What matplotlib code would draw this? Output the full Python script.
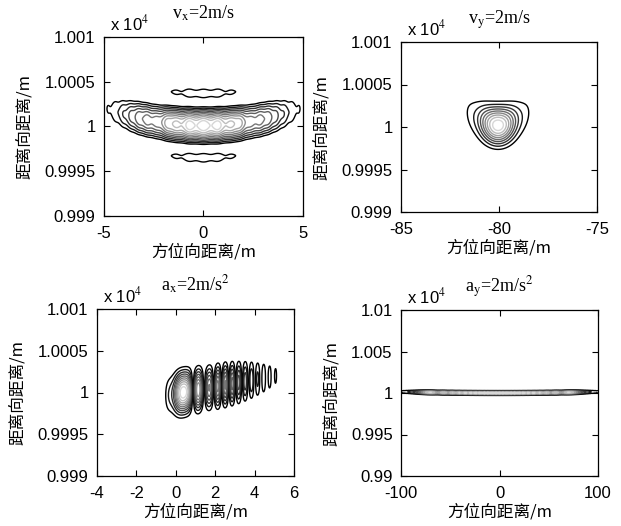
import numpy as np
import matplotlib
matplotlib.use("Agg")
import matplotlib.pyplot as plt
from matplotlib.colors import LinearSegmentedColormap

plt.rcParams['font.family'] = ['Liberation Sans', 'Noto Sans CJK SC', 'DejaVu Sans']
plt.rcParams['mathtext.fontset'] = 'stix'

# ---------------- data / parameters ----------------
titles = [r'v$_{\mathrm{x}}$=2m/s', r'v$_{\mathrm{y}}$=2m/s',
          r'a$_{\mathrm{x}}$=2m/s$^{2}$', r'a$_{\mathrm{y}}$=2m/s$^{2}$']
xlims = [(-5, 5), (-85, -75), (-4, 6), (-100, 100)]
ylims = [(9990, 10010), (9990, 10010), (9990, 10010), (9900, 10100)]
xticks = [[-5, 0, 5], [-85, -80, -75], [-4, -2, 0, 2, 4, 6], [-100, 0, 100]]
yticks = [[9990, 9995, 10000, 10005, 10010]] * 3 + [[9900, 9950, 10000, 10050, 10100]]
ytick_labels = [['0.999', '0.9995', '1', '1.0005', '1.001']] * 3 + \
               [['0.99', '0.995', '1', '1.005', '1.01']]
# point-target response parameters (centre, resolution, phase errors, windows)
az_center = [0.0, -80.05, 0.1, 0.0]           # m
rg_center = [10000.1, 10000.2, 9999.9, 10000.0]    # m
az_res = [0.36, 0.9, 0.29, 1.7]               # m
rg_res = [2.5, 2.1, 2.3, 2.2]                 # m
quad_phase = [13.0, 0.8, 0.0, 50.0]           # quadratic phase error (cycles)
cubic_phase = [0.0, 0.0, 19.0, 0.0]           # cubic phase error (cycles)
az_win = [0.7, 0.6, 0.85, 0.9]                # raised-cosine window pedestal
rg_win = [1.0, 0.6, 0.6, 0.6]
rg_curv = [0.08, 0.6, 0.0, 0.00015]           # range curvature (m / m^2)
rg_walk = [0.0, 0.0, 0.42, 0.0]               # range walk (m / m)
level_low = [0.18, 0.1, 0.11, 0.1]            # lowest contour level
n_levels = [10, 9, 10, 9]

xlabel = '方位向距离/m'
ylabel = '距离向距离/m'

positions = [(104, 37, 303, 216), (401, 42, 597, 212),
             (97, 309, 294, 476), (401, 310, 598, 476)]

W, H = 621, 526
fig = plt.figure(figsize=(W / 100, H / 100), dpi=100)
cmap = LinearSegmentedColormap.from_list('g', ['#000000', '#e4e4e4'])

t = np.linspace(-0.5, 0.5, 1500)


def response(u, a, quad=0.0, cubic=0.0):
    w = a + (1 - a) * np.cos(2 * np.pi * t)
    ph = 2 * np.pi * (quad * t ** 2 + cubic * t ** 3)
    k = (w * np.exp(1j * ph))[None, :] * np.exp(-2j * np.pi * u[:, None] * t[None, :])
    r = np.abs(k.sum(axis=1))
    return r / r.max()


for i in range(4):
    l, tp, r, b = positions[i]
    ax = fig.add_axes([l / W, (H - b) / H, (r - l) / W, (b - tp) / H])
    x = np.linspace(xlims[i][0], xlims[i][1], 700)
    y = np.linspace(ylims[i][0], ylims[i][1], 500)
    A = response((x - az_center[i]) / az_res[i], az_win[i], quad_phase[i], cubic_phase[i])
    ur = np.linspace(-8, 8, 801)
    Rr = response(ur, rg_win[i])
    X, Y = np.meshgrid(x, y)
    dx = X - az_center[i]
    yc = rg_center[i] + rg_curv[i] * dx ** 2 + rg_walk[i] * dx
    R = np.interp((Y - yc) / rg_res[i], ur, Rr)
    Z = A[None, :] * R
    Z /= Z.max()
    lev = np.linspace(level_low[i], 0.92, n_levels[i])
    ax.contour(X, Y, Z, levels=lev, cmap=cmap, linewidths=1.0,
               vmin=level_low[i], vmax=0.97)

    ax.set_xlim(xlims[i])
    ax.set_ylim(ylims[i])
    ax.set_xticks(xticks[i])
    ax.set_xticklabels([str(v) for v in xticks[i]])
    ax.set_yticks(yticks[i])
    ax.set_yticklabels(ytick_labels[i])
    ax.tick_params(direction='in', top=True, right=True, length=4, width=0.8,
                   labelsize=12)
    ax.tick_params(axis='x', pad=7)
    ax.tick_params(axis='y', pad=6)
    for s in ax.spines.values():
        s.set_linewidth(0.9)
    ax.set_xlabel(xlabel, fontsize=12, family=['Noto Sans CJK SC'], labelpad=2)
    ax.set_ylabel(ylabel, fontsize=12, family=['Noto Sans CJK SC'], labelpad=8)
    ax.set_title(titles[i], fontsize=13, family=['Liberation Serif'], pad=13)
    ax.text(0.03, 1.02, r'x 10$^{4}$', transform=ax.transAxes, ha='left', va='bottom',
            fontsize=12, family=['Liberation Sans'])

fig.savefig('out.png', dpi=100)
